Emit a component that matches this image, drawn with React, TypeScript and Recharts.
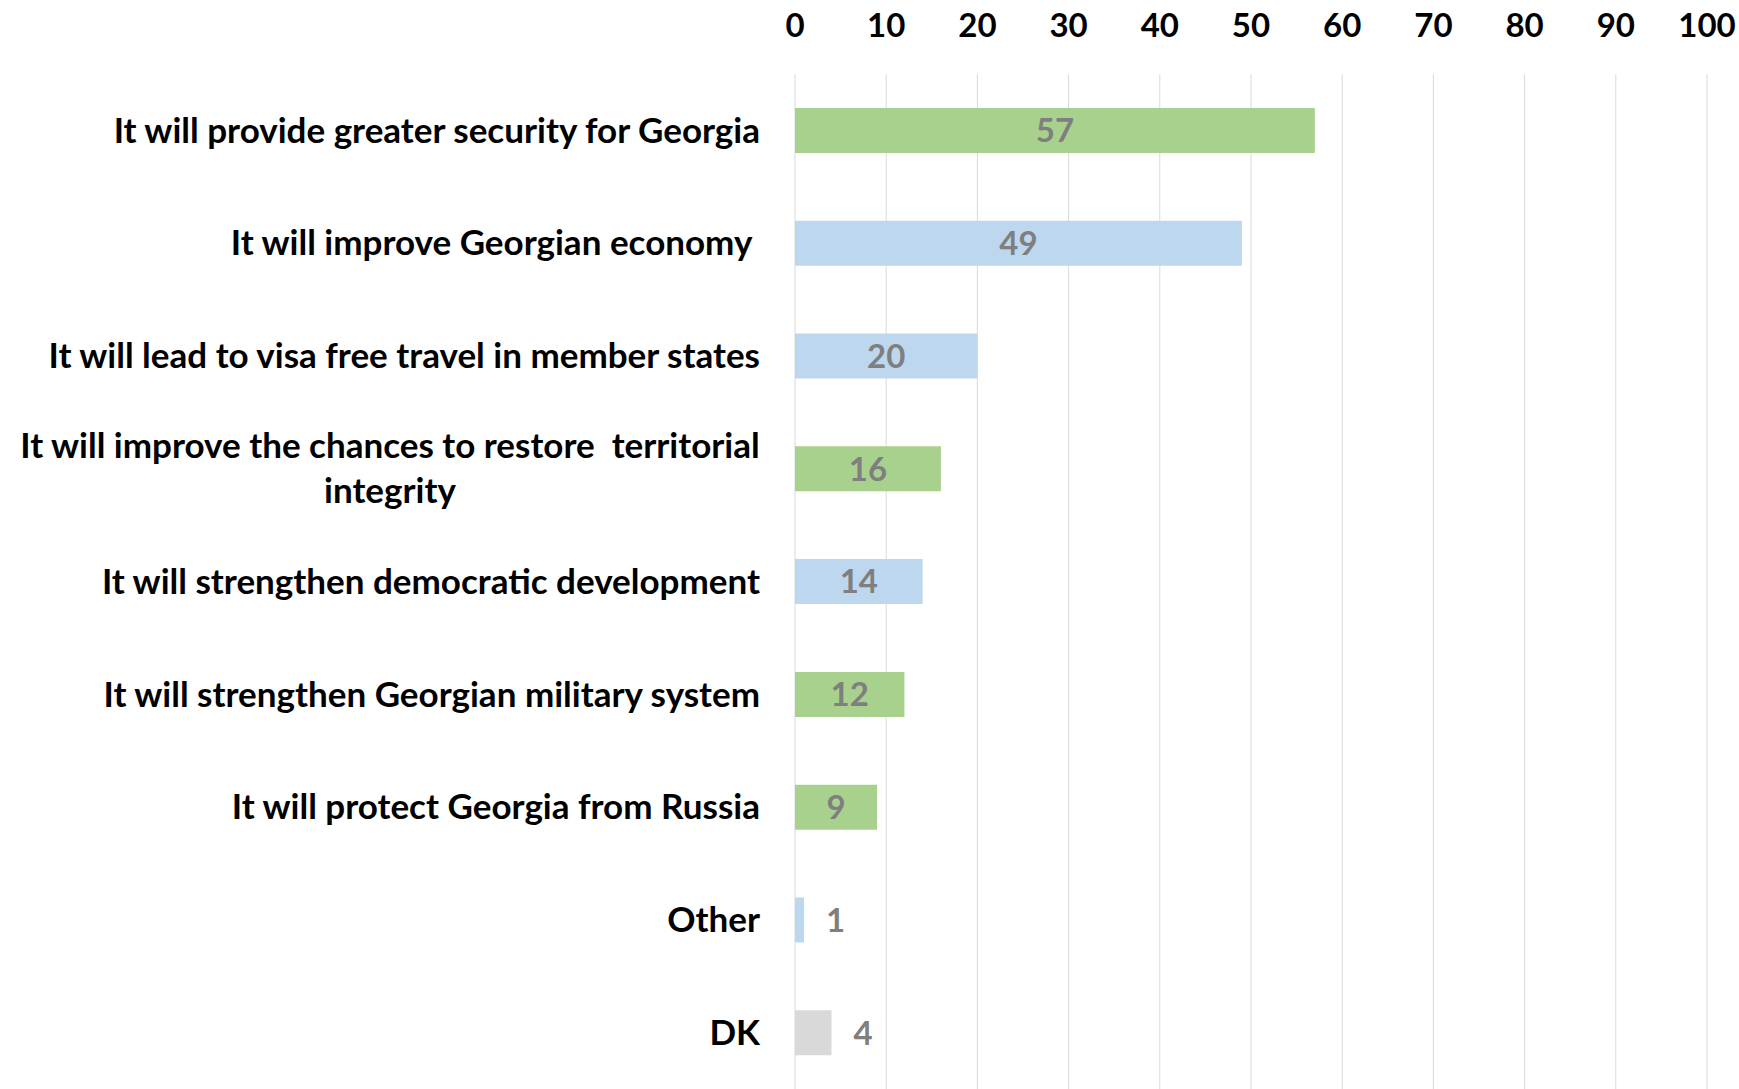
import { BarChart, Bar, XAxis, YAxis, CartesianGrid, Cell, LabelList } from 'recharts';

const categories = [
  'It will provide greater security for Georgia',
  'It will improve Georgian economy ',
  'It will lead to visa free travel in member states',
  'It will improve the chances to restore  territorial\nintegrity',
  'It will strengthen democratic development',
  'It will strengthen Georgian military system',
  'It will protect Georgia from Russia',
  'Other',
  'DK',
];
const values = [57, 49, 20, 16, 14, 12, 9, 1, 4];
const barColors = ['#A9D18E', '#BDD7EE', '#BDD7EE', '#A9D18E', '#BDD7EE', '#A9D18E', '#A9D18E', '#BDD7EE', '#D9D9D9'];
const xTicks = [0, 10, 20, 30, 40, 50, 60, 70, 80, 90, 100];

const data = categories.map((name, i) => ({ name, value: values[i], color: barColors[i] }));

const FONT = 'Lato, "Open Sans", sans-serif';
const FONT_SIZE = 33;
const CAT_FONT_SIZE = 35;
const LINE_H = 45;

let ctx: CanvasRenderingContext2D | null = null;
function textWidth(s: string): number {
  if (!ctx) ctx = document.createElement('canvas').getContext('2d');
  if (!ctx) return s.length * CAT_FONT_SIZE * 0.5;
  ctx.font = `bold ${CAT_FONT_SIZE}px Lato`;
  return ctx.measureText(s).width;
}

// category label: right-aligned block, lines centred inside the block
function CategoryTick(props: any) {
  const { x, y, payload } = props;
  const lines: string[] = String(payload.value).split('\n');
  const right = x - 27;
  const blockW = Math.max(...lines.map(textWidth));
  const cx = right - blockW / 2;
  const startY = y - ((lines.length - 1) * LINE_H) / 2;
  return (
    <g>
      {lines.map((line, i) => (
        <text
          key={i}
          x={lines.length > 1 ? cx : right}
          y={startY + i * LINE_H}
          dy="0.35em"
          textAnchor={lines.length > 1 ? 'middle' : 'end'}
          fill="#000"
          fontFamily={FONT}
          fontSize={CAT_FONT_SIZE}
          fontWeight={700}
          style={{ whiteSpace: 'pre' }}
        >
          {line}
        </text>
      ))}
    </g>
  );
}

function ValueTick(props: any) {
  const { x, payload } = props;
  return (
    <text x={x} y={37} textAnchor="middle" fill="#000" fontFamily={FONT} fontSize={FONT_SIZE} fontWeight={700}>
      {payload.value}
    </text>
  );
}

function BarValue(props: any) {
  const { x, y, width, height, value } = props;
  const inside = value >= 5;
  return (
    <text
      x={inside ? x + width / 2 : x + width + 22}
      y={y + height / 2}
      dy="0.36em"
      textAnchor={inside ? 'middle' : 'start'}
      fill="#7F7F7F"
      fontFamily={FONT}
      fontSize={FONT_SIZE}
      fontWeight={700}
    >
      {value}
    </text>
  );
}

export default function App() {
  return (
    <div style={{ position: 'absolute', top: 0, left: 0, width: 1739, height: 1089, background: '#fff' }}>
      <BarChart
        width={1739}
        height={1089}
        data={data}
        layout="vertical"
        margin={{ top: 0, right: 32, left: 0, bottom: 0 }}
        barCategoryGap="30%"
      >
        <CartesianGrid horizontal={false} stroke="#D9D9D9" />
        <XAxis
          type="number"
          orientation="top"
          domain={[0, 100]}
          ticks={xTicks}
          height={74}
          axisLine={false}
          tickLine={false}
          tick={<ValueTick />}
          interval={0}
        />
        <YAxis
          type="category"
          dataKey="name"
          width={795}
          axisLine={false}
          tickLine={false}
          tick={<CategoryTick />}
          interval={0}
        />
        <Bar dataKey="value" barSize={45} isAnimationActive={false}>
          {data.map((d, i) => (
            <Cell key={i} fill={d.color} />
          ))}
          <LabelList dataKey="value" content={<BarValue />} />
        </Bar>
      </BarChart>
    </div>
  );
}
